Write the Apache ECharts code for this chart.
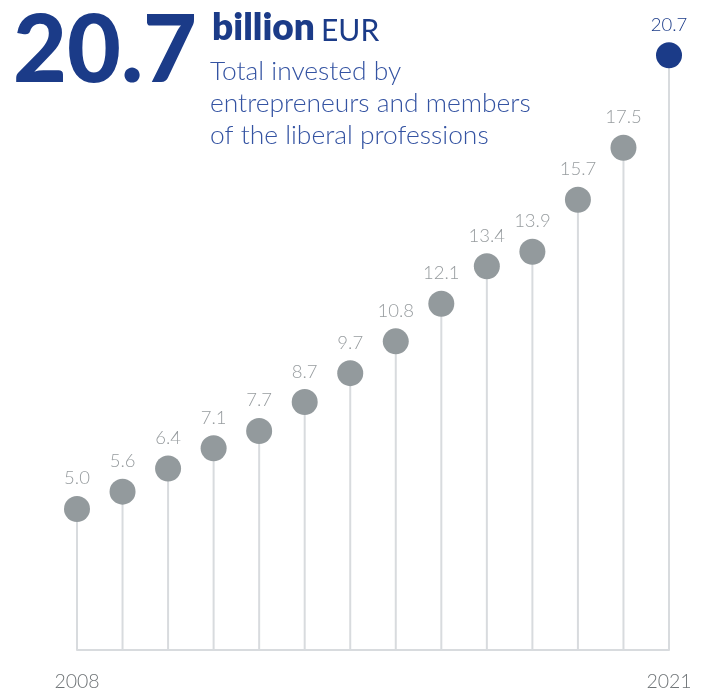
<!DOCTYPE html>
<html>
<head>
<meta charset="utf-8">
<style>
  html, body { margin: 0; padding: 0; background: #ffffff; }
  #chart { width: 704px; height: 688px; }
</style>
<script src="https://cdn.jsdelivr.net/npm/echarts@6/dist/echarts.min.js"></script>
</head>
<body>
<div id="chart"></div>
<script>
// Yearly totals, billion EUR
const years = ['2008', '2009', '2010', '2011', '2012', '2013', '2014',
               '2015', '2016', '2017', '2018', '2019', '2020', '2021'];
const totals = [5.0, 5.6, 6.4, 7.1, 7.7, 8.7, 9.7, 10.8, 12.1, 13.4, 13.9, 15.7, 17.5, 20.7];
const headline = '20.7';
const subtitleLines = ['Total invested by', 'entrepreneurs and members', 'of the liberal professions'];

const BLUE = '#1b3b88';
const GREY_DOT = '#939a9d';
const GREY_LABEL = '#979c9f';
const STEM = '#d8dbde';
const Y_MIN = 0.12;
const Y_MAX = 22;
const lastIdx = totals.length - 1;

const chart = echarts.init(document.getElementById('chart'), null, { renderer: 'canvas' });

const FONT = 'Lato, "Noto Sans", sans-serif';

chart.setOption({
  animation: false,
  backgroundColor: '#ffffff',
  grid: { left: 77, right: 35, top: 17.7, bottom: 38, outerBoundsMode: 'none' },
  xAxis: {
    type: 'category',
    data: years,
    boundaryGap: false,
    axisLine: { show: true, lineStyle: { color: STEM, width: 2 } },
    axisTick: { show: false },
    splitLine: { show: false },
    axisLabel: {
      interval: (i) => i === 0 || i === lastIdx,
      margin: 22,
      fontFamily: FONT,
      fontWeight: 300,
      fontSize: 19.5,
      color: '#6f7477'
    }
  },
  yAxis: {
    type: 'value',
    min: Y_MIN,
    max: Y_MAX,
    show: false,
    splitLine: { show: false }
  },
  series: [
    {
      // vertical stems from the baseline up to each value
      type: 'custom',
      z: 1,
      silent: true,
      data: totals.map((v, i) => [i, v]),
      renderItem: (params, api) => {
        const top = api.coord([api.value(0), api.value(1)]);
        const bottom = api.coord([api.value(0), Y_MIN]);
        return {
          type: 'line',
          shape: { x1: top[0], y1: top[1], x2: bottom[0], y2: bottom[1] },
          style: { stroke: STEM, lineWidth: 2 }
        };
      }
    },
    {
      type: 'scatter',
      z: 3,
      symbol: 'circle',
      symbolSize: 26,
      itemStyle: { opacity: 1 },
      data: totals.map((v, i) => ({
        value: [i, v],
        itemStyle: { color: i === lastIdx ? BLUE : GREY_DOT, opacity: 1 },
        label: { color: i === lastIdx ? BLUE : GREY_LABEL }
      })),
      label: {
        show: true,
        position: 'top',
        distance: 8,
        fontFamily: FONT,
        fontWeight: 300,
        fontSize: 18.5,
        formatter: (p) => p.value[1].toFixed(1)
      }
    }
  ],
  graphic: [
    {
      type: 'text',
      left: 13,
      top: 5,
      style: {
        text: headline,
        fontFamily: FONT,
        fontWeight: 900,
        fontSize: 93,
        fill: BLUE
      }
    },
    {
      type: 'text',
      left: 212,
      top: 10,
      style: {
        text: 'billion',
        fontFamily: FONT,
        fontWeight: 800,
        fontSize: 37,
        fill: BLUE
      }
    },
    {
      type: 'text',
      left: 321,
      top: 16,
      style: {
        text: 'EUR',
        fontFamily: FONT,
        fontWeight: 400,
        fontSize: 30,
        fill: BLUE
      }
    },
    {
      type: 'text',
      left: 210,
      top: 55,
      style: {
        text: subtitleLines.join('\n'),
        fontFamily: FONT,
        fontWeight: 300,
        fontSize: 26.4,
        lineHeight: 32,
        fill: '#3453a2'
      }
    }
  ]
});
</script>
</body>
</html>
